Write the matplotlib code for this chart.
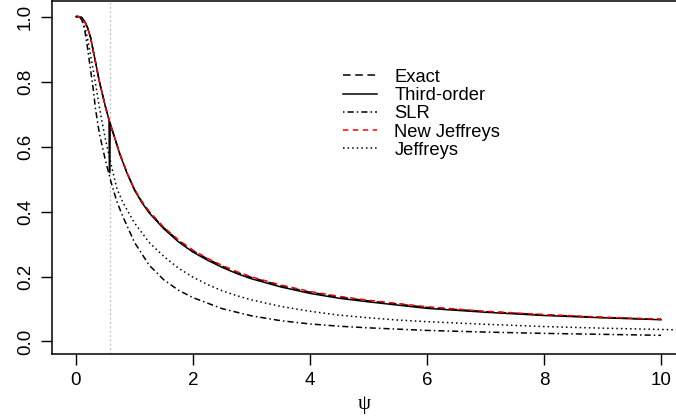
import matplotlib
matplotlib.use("Agg")
import matplotlib.pyplot as plt
import numpy as np

plt.rcParams['font.family'] = ['Liberation Sans', 'DejaVu Sans']

# Exact / New Jeffreys (they sit almost on top of each other)
psi_main = [0, 0.05, 0.1, 0.15, 0.2, 0.25, 0.3, 0.4, 0.5, 0.58, 0.75, 0.875, 1.0, 1.125,
            1.25, 1.5, 1.75, 2.0, 2.25, 2.5, 2.75, 3.0, 3.5, 4.0, 4.5, 5.0, 6.0, 7.0,
            8.0, 9.0, 10.0]
exact = [1.0, 1.0, 0.997, 0.985, 0.965, 0.935, 0.89, 0.80, 0.725, 0.672, 0.577, 0.518,
         0.468, 0.430, 0.399, 0.350, 0.311, 0.279, 0.254, 0.232, 0.213, 0.197, 0.172,
         0.152, 0.137, 0.125, 0.105, 0.092, 0.082, 0.074, 0.068]
new_jeffreys = [1.0, 1.0, 0.997, 0.985, 0.965, 0.935, 0.89, 0.80, 0.725, 0.672, 0.578,
                0.519, 0.469, 0.432, 0.401, 0.352, 0.313, 0.281, 0.256, 0.234, 0.215,
                0.199, 0.174, 0.154, 0.139, 0.127, 0.107, 0.093, 0.083, 0.075, 0.069]

# Third-order has a numerical spike near the MLE
psi_third = [0, 0.05, 0.1, 0.15, 0.2, 0.25, 0.3, 0.4, 0.5, 0.565, 0.571, 0.577, 0.585,
             0.75, 0.875, 1.0, 1.125, 1.25, 1.5, 1.75, 2.0, 2.25, 2.5, 2.75, 3.0, 3.5,
             4.0, 4.5, 5.0, 6.0, 7.0, 8.0, 9.0, 10.0]
third = [1.0, 1.0, 0.997, 0.985, 0.965, 0.935, 0.89, 0.80, 0.725, 0.682, 0.52, 0.52,
         0.672, 0.576, 0.517, 0.466, 0.428, 0.396, 0.347, 0.307, 0.275, 0.250, 0.228,
         0.209, 0.193, 0.168, 0.148, 0.133, 0.122, 0.102, 0.090, 0.080, 0.073, 0.067]

psi_slr = [0, 0.05, 0.1, 0.15, 0.2, 0.3, 0.33, 0.4, 0.5, 0.6, 0.7, 0.8, 1.0, 1.25, 1.5,
           1.75, 2.0, 2.5, 3.0, 3.5, 4.0, 4.5, 5.0, 6.0, 7.0, 8.0, 9.0, 10.0]
slr = [1.0, 1.0, 0.99, 0.958, 0.90, 0.77, 0.72, 0.64, 0.56, 0.49, 0.43, 0.385, 0.305,
       0.235, 0.19, 0.158, 0.135, 0.101, 0.079, 0.064, 0.054, 0.047, 0.042, 0.034,
       0.029, 0.025, 0.022, 0.019]

psi_jef = [0, 0.05, 0.1, 0.17, 0.2, 0.3, 0.36, 0.4, 0.5, 0.6, 0.7, 0.81, 1.0, 1.25, 1.5,
           1.75, 2.0, 2.25, 2.5, 2.75, 3.0, 3.5, 4.0, 4.5, 5.0, 5.5, 6.0, 7.0, 8.0, 9.0,
           10.0, 10.5]
jeffreys = [1.0, 1.0, 0.993, 0.955, 0.93, 0.83, 0.765, 0.72, 0.625, 0.545, 0.47, 0.425,
            0.365, 0.305, 0.262, 0.226, 0.198, 0.175, 0.156, 0.141, 0.128, 0.108, 0.093,
            0.081, 0.073, 0.066, 0.061, 0.053, 0.046, 0.041, 0.037, 0.035]

psi_hat = 0.573
labels = ["Exact", "Third-order", "SLR", "New Jeffreys", "Jeffreys"]

fig = plt.figure(figsize=(6.76, 4.2), dpi=100)
ax = fig.add_axes([52 / 676, (420 - 354) / 420, 1 - 52 / 676, 353 / 420])

lw = 1.1
ax.axvline(psi_hat, color="#bebebe", lw=0.9, ls=(0, (1.5, 2)))
l_exact, = ax.plot(psi_main, exact, color="black", lw=lw, ls=(0, (5, 3)))
l_third, = ax.plot(psi_third, third, color="black", lw=lw, ls="-")
l_slr, = ax.plot(psi_slr, slr, color="black", lw=lw, ls=(0, (1, 2, 4, 2)))
l_nj, = ax.plot(psi_main, new_jeffreys, color="red", lw=lw, ls=(0, (3.5, 3)))
l_jef, = ax.plot(psi_jef, jeffreys, color="black", lw=lw, ls=(0, (1, 2)))

ax.set_xlim(-0.41, 10.256)
ax.set_ylim(-0.0385, 1.048)
ax.spines['right'].set_visible(False)
for s in ['left', 'bottom', 'top']:
    ax.spines[s].set_linewidth(1.1)

ax.set_xticks([0, 2, 4, 6, 8, 10])
ax.set_yticks([0.0, 0.2, 0.4, 0.6, 0.8, 1.0])
ax.set_yticklabels(["0.0", "0.2", "0.4", "0.6", "0.8", "1.0"], rotation=90, va="center")
ax.tick_params(direction="out", length=8, width=1.0, labelsize=13.5, pad=5)
ax.set_xlabel("ψ", family="Liberation Serif", fontsize=15, labelpad=4)

ax.legend([l_exact, l_third, l_slr, l_nj, l_jef], labels, frameon=False,
          fontsize=13.2, handlelength=1.86, handletextpad=0.93, labelspacing=0.07,
          loc="upper left", bbox_to_anchor=(0.44, 0.855))

fig.savefig("out.png", dpi=100)
